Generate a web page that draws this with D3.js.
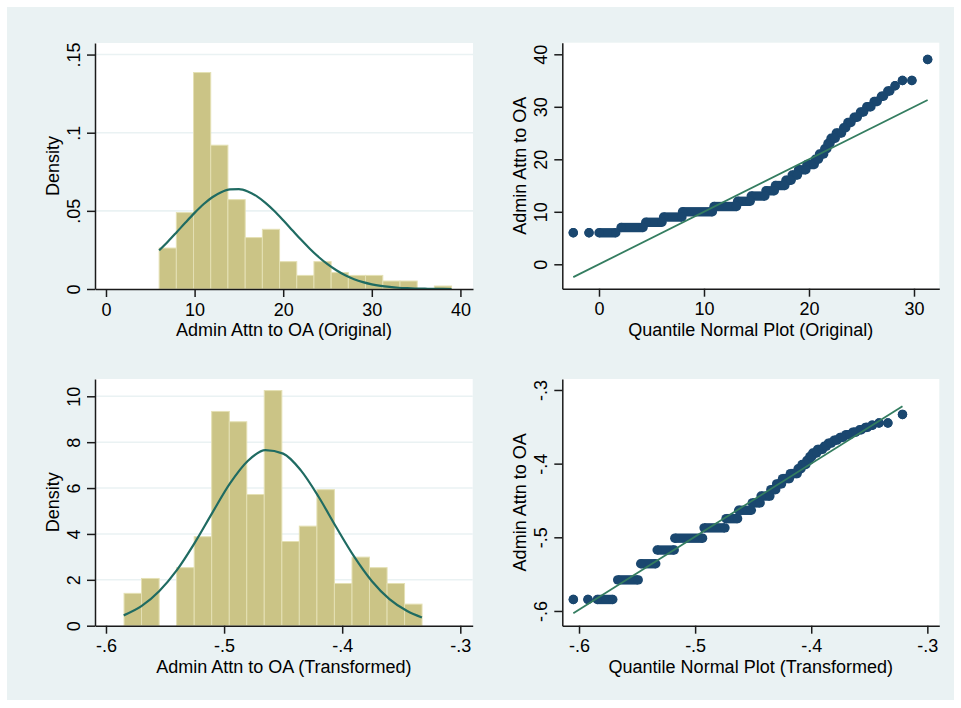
<!DOCTYPE html>
<html><head><meta charset="utf-8">
<script src="https://cdn.jsdelivr.net/npm/d3@7"></script>
<style>
body{margin:0;background:#fff;}
svg{display:block;}
text{font-family:"Liberation Sans",Arial,Helvetica,sans-serif;}
</style>
</head><body><div id="chart"></div>
<script>
// ---------------- DATA ----------------
// Histogram 1: Admin Attn to OA (Original)
const hist1Edges = [6, 7.94, 9.88, 11.82, 13.76, 15.71, 17.65, 19.59, 21.53, 23.47, 25.41, 27.35, 29.29, 31.24, 33.18, 35.12, 37.06, 39];
const hist1Density = [0.0262, 0.0489, 0.1385, 0.0920, 0.0572, 0.0329, 0.0382, 0.0175, 0.0087, 0.0175, 0.0105, 0.0087, 0.0087, 0.0051, 0.0051, 0, 0.0019];
const hist1CurveX = [6,7,8,9,10,11,12,13,14,15,16,17,18,19,20,21,22,23,24,25,26,27,28,29,30,31,32,33,34,35,36,37,38,39];
const hist1CurveY = [0.0247,0.0304,0.0365,0.0427,0.0487,0.0542,0.0587,0.0619,0.0637,0.0639,0.0624,0.0594,0.0551,0.0499,0.0440,0.0378,0.0316,0.0258,0.0205,0.0159,0.0120,0.0088,0.0063,0.0044,0.0030,0.0020,0.0013,0.0008,0.0005,0.0003,0.0002,0.0001,0.0001,0.0000];
const hist1XTicks = [0, 10, 20, 30, 40];
const hist1XLabels = ["0", "10", "20", "30", "40"];
const hist1YTicks = [0, 0.05, 0.1, 0.15];
const hist1YLabels = ["0", ".05", ".1", ".15"];

// Histogram 2: Admin Attn to OA (Transformed)
const hist2Edges = [-0.5847, -0.5699, -0.5550, -0.5402, -0.5253, -0.5105, -0.4956, -0.4808, -0.4660, -0.4511, -0.4363, -0.4214, -0.4066, -0.3917, -0.3769, -0.3620, -0.3472, -0.3324];
const hist2Density = [1.41, 2.06, 0, 2.53, 3.88, 9.34, 8.89, 5.72, 10.25, 3.67, 4.34, 5.93, 1.84, 2.99, 2.53, 1.84, 0.94];
const hist2CurveX = [-0.585,-0.57,-0.555,-0.54,-0.525,-0.51,-0.495,-0.48,-0.465,-0.45,-0.435,-0.42,-0.405,-0.39,-0.375,-0.36,-0.345,-0.3325];
const hist2CurveY = [0.45,0.85,1.50,2.42,3.60,4.92,6.20,7.18,7.65,7.50,6.77,5.62,4.29,3.02,1.95,1.16,0.64,0.36];
const hist2XTicks = [-0.6, -0.5, -0.4, -0.3];
const hist2XLabels = ["-.6", "-.5", "-.4", "-.3"];
const hist2YTicks = [0, 2, 4, 6, 8, 10];
const hist2YLabels = ["0", "2", "4", "6", "8", "10"];

// Quantile normal plot 1 (Original): value, first and last quantile position of its run
const qq1Y  = [6, 6, 6, 7, 8, 9, 10, 11, 12, 13, 14, 15, 16, 17, 18, 19, 20, 21, 22, 23, 24, 25, 26, 27, 28, 29, 30, 31, 32, 33, 34, 35, 35, 39];
const qq1X0 = [-2.45, -0.95, 0.0, 2.1, 4.45, 6.15, 7.95, 10.95, 13.2, 14.5, 15.9, 16.8, 17.8, 18.4, 19.0, 19.8, 20.6, 21.0, 21.5, 21.8, 22.1, 22.6, 23.3, 23.7, 24.3, 24.9, 25.5, 26.2, 26.9, 27.5, 28.2, 28.9, 29.8, 31.3];
const qq1X1 = [-2.45, -0.95, 1.6, 4.2, 6.0, 7.9, 10.8, 13.1, 14.4, 15.8, 16.7, 17.7, 18.3, 18.9, 19.7, 20.5, 20.9, 21.4, 21.7, 22.0, 22.5, 23.1, 23.5, 24.0, 24.6, 25.2, 25.9, 26.5, 27.1, 27.7, 28.2, 28.9, 29.8, 31.3];
const qq1LineX = [-2.45, 31.3];
const qq1LineY = [-2.45, 31.3];
const qq1XTicks = [0, 10, 20, 30];
const qq1XLabels = ["0", "10", "20", "30"];
const qq1YTicks = [0, 10, 20, 30, 40];
const qq1YLabels = ["0", "10", "20", "30", "40"];

// Quantile normal plot 2 (Transformed)
const qq2Y  = [-0.5844, -0.5844, -0.5844, -0.5578, -0.5359, -0.5173, -0.5012, -0.4872, -0.4747, -0.4633, -0.4533, -0.4440, -0.4353, -0.4275, -0.4203, -0.4135, -0.4070, -0.4011, -0.3956, -0.3904, -0.3855, -0.3807, -0.3763, -0.3722, -0.3681, -0.3644, -0.3607, -0.3573, -0.3540, -0.3508, -0.3478, -0.3449, -0.3449, -0.3332];
const qq2X0 = [-0.6049, -0.5923, -0.5843, -0.5667, -0.5469, -0.5327, -0.5175, -0.4923, -0.4734, -0.4625, -0.4508, -0.4432, -0.4348, -0.4298, -0.4247, -0.4180, -0.4113, -0.4079, -0.4037, -0.4012, -0.3987, -0.3945, -0.3886, -0.3852, -0.3802, -0.3752, -0.3701, -0.3642, -0.3584, -0.3533, -0.3474, -0.3416, -0.3340, -0.3214];
const qq2X1 = [-0.6049, -0.5923, -0.5709, -0.5490, -0.5339, -0.5180, -0.4936, -0.4743, -0.4634, -0.4516, -0.4440, -0.4356, -0.4306, -0.4256, -0.4188, -0.4121, -0.4088, -0.4046, -0.4020, -0.3995, -0.3953, -0.3903, -0.3869, -0.3827, -0.3777, -0.3726, -0.3668, -0.3617, -0.3567, -0.3516, -0.3474, -0.3416, -0.3340, -0.3214];
const qq2LineX = [-0.6049, -0.3214];
const qq2LineY = [-0.6030, -0.3220];
const qq2XTicks = [-0.6, -0.5, -0.4, -0.3];
const qq2XLabels = ["-.6", "-.5", "-.4", "-.3"];
const qq2YTicks = [-0.6, -0.5, -0.4, -0.3];
const qq2YLabels = ["-.6", "-.5", "-.4", "-.3"];

// ---------------- STYLE ----------------
const BG = "#eaf2f3";
const BAR_FILL = "#cbc486";
const BAR_STROKE = "#e4e0b4";
const CURVE = "#1f6b62";
const MARKER = "#1a476f";
const QQLINE = "#347d60";
const AXIS = "#1a1a1a";
const FS = 18;

const W = 961, H = 708;
const svg = d3.select("#chart").append("svg").attr("width", W).attr("height", H);
svg.append("rect").attr("width", W).attr("height", H).attr("fill", "#fff");
svg.append("rect").attr("x", 7).attr("y", 7).attr("width", 947).attr("height", 693).attr("fill", BG);

function drawAxes(g, x, y, opt) {
  const [x0, x1] = x.range();
  const [yb, yt] = y.range();
  g.append("rect").attr("x", x0).attr("y", yt).attr("width", x1 - x0).attr("height", yb - yt).attr("fill", "#fff");
  if (opt.grid) {
    g.append("g").selectAll("line").data(opt.yTicks.filter(d => d !== 0)).join("line")
      .attr("x1", x0).attr("x2", x1).attr("y1", d => y(d)).attr("y2", d => y(d))
      .attr("stroke", BG).attr("stroke-width", 1.6);
  }
}

function finishAxes(g, x, y, opt) {
  const [x0, x1] = x.range();
  const [yb, yt] = y.range();
  const ax = g.append("g").attr("transform", `translate(0,${yb})`)
    .call(d3.axisBottom(x).tickValues(opt.xTicks).tickFormat((d, i) => opt.xLabels[i]).tickSize(8).tickSizeOuter(0));
  const ay = g.append("g").attr("transform", `translate(${x0},0)`)
    .call(d3.axisLeft(y).tickValues(opt.yTicks).tickFormat((d, i) => opt.yLabels[i]).tickSize(8).tickSizeOuter(0));
  [ax, ay].forEach(a => {
    a.select(".domain").attr("stroke", AXIS).attr("stroke-width", 1.5);
    a.selectAll(".tick line").attr("stroke", AXIS).attr("stroke-width", 1.5);
    a.selectAll(".tick text").attr("fill", "#000").style("font-size", FS + "px")
      .style("font-family", '"Liberation Sans", Arial, sans-serif');
  });
  ax.selectAll(".tick text").attr("y", 26.5).attr("dy", 0);
  ay.selectAll(".tick text").attr("x", 0).attr("y", -15).attr("dy", 0)
    .attr("text-anchor", "middle").attr("transform", "rotate(-90)");
  g.append("text").attr("x", (x0 + x1) / 2).attr("y", yb + 47).attr("text-anchor", "middle")
    .style("font-size", FS + "px").attr("fill", "#000").text(opt.xTitle);
  g.append("text").attr("transform", `translate(${x0 - 36},${(yb + yt) / 2}) rotate(-90)`)
    .attr("text-anchor", "middle").style("font-size", FS + "px").attr("fill", "#000").text(opt.yTitle);
}

function histPanel(box, xDom, yDom, edges, dens, cx, cy, opt) {
  const g = svg.append("g");
  const x = d3.scaleLinear().domain(xDom).range([box.l, box.r]);
  const y = d3.scaleLinear().domain(yDom).range([box.b, box.t]);
  drawAxes(g, x, y, opt);
  const bins = dens.map((d, i) => ({ a: edges[i], b: edges[i + 1], d }));
  g.append("g").selectAll("rect").data(bins.filter(b => b.d > 0)).join("rect")
    .attr("x", b => x(b.a)).attr("width", b => x(b.b) - x(b.a))
    .attr("y", b => y(b.d)).attr("height", b => y(0) - y(b.d))
    .attr("fill", BAR_FILL).attr("stroke", BAR_STROKE).attr("stroke-width", 1);
  const pts = cx.map((v, i) => [v, cy[i]]);
  g.append("path").datum(pts)
    .attr("d", d3.line().x(p => x(p[0])).y(p => y(p[1])).curve(d3.curveMonotoneX))
    .attr("fill", "none").attr("stroke", CURVE).attr("stroke-width", 2.2);
  finishAxes(g, x, y, opt);
}

function qqPanel(box, xDom, yDom, ys, xs0, xs1, lx, ly, opt) {
  const g = svg.append("g");
  const x = d3.scaleLinear().domain(xDom).range([box.l, box.r]);
  const y = d3.scaleLinear().domain(yDom).range([box.b, box.t]);
  drawAxes(g, x, y, opt);
  const R = 4.7;
  const runs = ys.map((v, i) => ({ y: v, a: xs0[i], b: xs1[i] }));
  const mg = g.append("g");
  mg.selectAll("line").data(runs).join("line")
    .attr("x1", d => x(d.a)).attr("x2", d => x(d.b)).attr("y1", d => y(d.y)).attr("y2", d => y(d.y))
    .attr("stroke", MARKER).attr("stroke-width", 2 * R);
  mg.selectAll("circle.s").data(runs).join("circle").attr("class", "s")
    .attr("cx", d => x(d.a)).attr("cy", d => y(d.y)).attr("r", R).attr("fill", MARKER);
  mg.selectAll("circle.e").data(runs).join("circle").attr("class", "e")
    .attr("cx", d => x(d.b)).attr("cy", d => y(d.y)).attr("r", R).attr("fill", MARKER);
  g.append("line").attr("x1", x(lx[0])).attr("y1", y(ly[0])).attr("x2", x(lx[1])).attr("y2", y(ly[1]))
    .attr("stroke", QQLINE).attr("stroke-width", 1.8);
  finishAxes(g, x, y, opt);
}

histPanel({ l: 95, r: 473, t: 43, b: 289 }, [-1.24, 41.42], [0, 0.1574], hist1Edges, hist1Density, hist1CurveX, hist1CurveY,
  { grid: true, xTicks: hist1XTicks, xLabels: hist1XLabels, yTicks: hist1YTicks, yLabels: hist1YLabels,
    xTitle: "Admin Attn to OA (Original)", yTitle: "Density" });

qqPanel({ l: 562.3, r: 939.3, t: 42.7, b: 288.7 }, [-3.495, 32.41], [-4.65, 42.21], qq1Y, qq1X0, qq1X1, qq1LineX, qq1LineY,
  { grid: false, xTicks: qq1XTicks, xLabels: qq1XLabels, yTicks: qq1YTicks, yLabels: qq1YLabels,
    xTitle: "Quantile Normal Plot (Original)", yTitle: "Admin Attn to OA" });

histPanel({ l: 95, r: 472.7, t: 379, b: 625.7 }, [-0.6093, -0.2895], [0, 10.754], hist2Edges, hist2Density, hist2CurveX, hist2CurveY,
  { grid: true, xTicks: hist2XTicks, xLabels: hist2XLabels, yTicks: hist2YTicks, yLabels: hist2YLabels,
    xTitle: "Admin Attn to OA (Transformed)", yTitle: "Density" });

qqPanel({ l: 562.3, r: 939.3, t: 379, b: 625.7 }, [-0.6144, -0.2897], [-0.62, -0.2851], qq2Y, qq2X0, qq2X1, qq2LineX, qq2LineY,
  { grid: false, xTicks: qq2XTicks, xLabels: qq2XLabels, yTicks: qq2YTicks, yLabels: qq2YLabels,
    xTitle: "Quantile Normal Plot (Transformed)", yTitle: "Admin Attn to OA" });
</script>
</body></html>
